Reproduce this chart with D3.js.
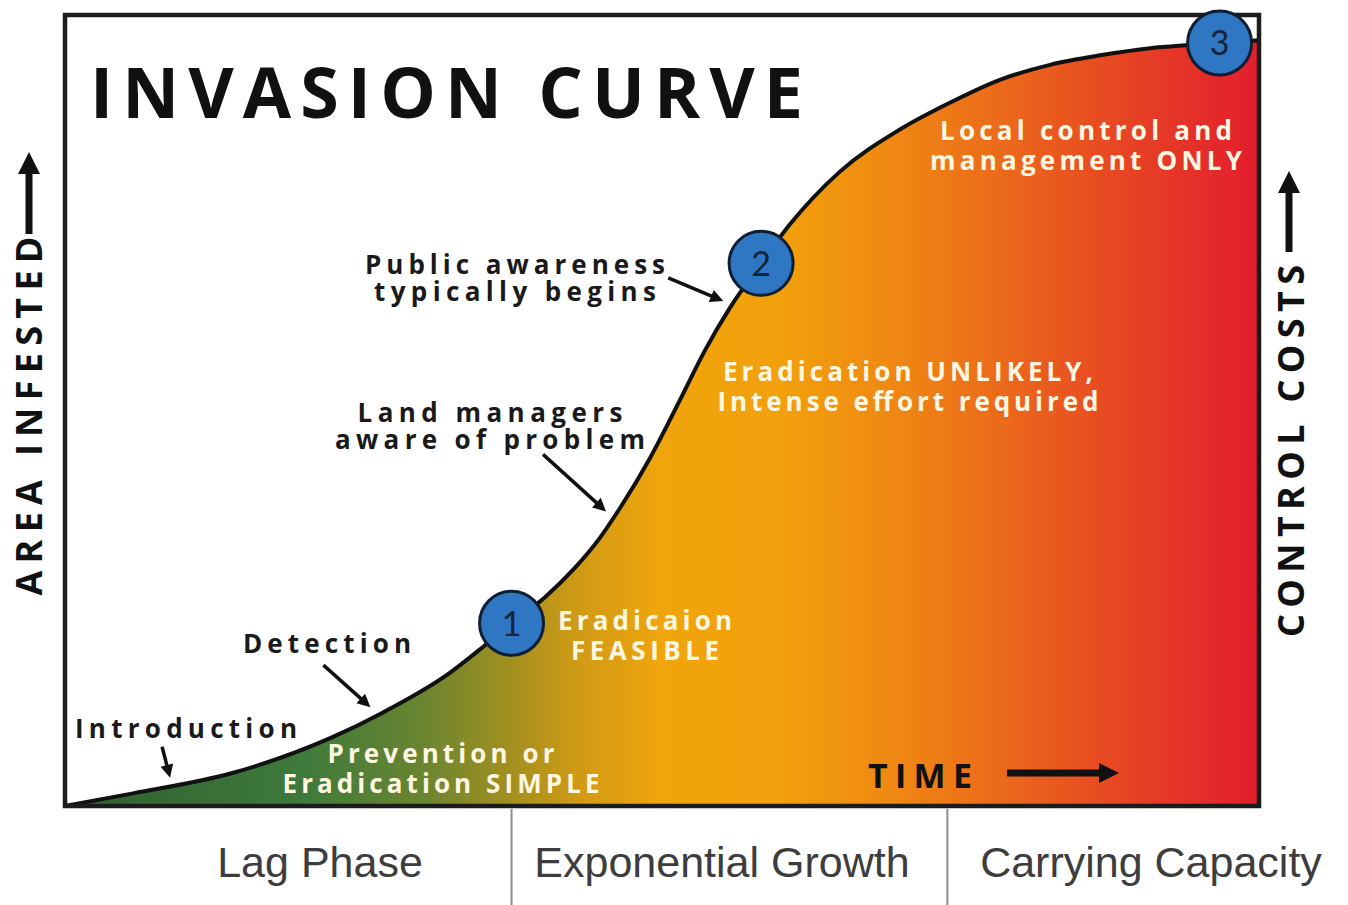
<!DOCTYPE html>
<html>
<head>
<meta charset="utf-8">
<script src="https://cdn.jsdelivr.net/npm/d3@7"></script>
<style>
body { margin: 0; background: #fff; }
svg { display: block; }
</style>
</head>
<body>
<svg id="chart" width="1348" height="905"></svg>
<script>
//------------------- données -------------------

// courbe d'invasion : temps (0-100) et surface infestée (0-100)
const curveTime = [0, 5.7, 14.1, 22.4, 26.6, 32.2, 35.0, 37.4, 40.2, 42.7, 44.8, 46.5, 49.0, 51.5, 53.6, 55.7, 58.2, 60.7, 64.9, 69.9, 74.1, 78.3, 82.5, 86.7, 90.9, 94.2, 100];
const curveArea = [0, 1.6, 4.2, 8.7, 11.8, 16.8, 20.1, 23.1, 26.4, 30.1, 33.9, 37.7, 44.0, 51.3, 57.6, 63.0, 68.4, 73.5, 80.2, 85.5, 88.9, 91.8, 93.7, 94.9, 95.8, 96.2, 96.8];

// étapes numérotées
const milestoneLabels = ["1", "2", "3"];
const milestoneTime = [37.4, 58.3, 96.7];

// phases sous le graphique
const phaseNames = ["Lag Phase", "Exponential Growth", "Carrying Capacity"];
const phaseBreaks = [37.4, 73.9];

// annotations noires et zones blanches
const noteLines = [["Introduction"], ["Detection"], ["Land managers", "aware of problem"], ["Public awareness", "typically begins"]];
const noteTime = [8.8, 26, 45.9, 55.8];
const zoneLines = [["Prevention or", "Eradication SIMPLE"], ["Eradicaion", "FEASIBLE"], ["Eradication UNLIKELY,", "Intense effort required"], ["Local control and", "management ONLY"]];

const title = "INVASION CURVE";
const yLabel = "AREA INFESTED";
const y2Label = "CONTROL COSTS";
const xLabel = "TIME";

//------------------- échelles -------------------

const svg = d3.select("#chart");
const x = d3.scaleLinear().domain([0, 100]).range([65, 1259]);
const y = d3.scaleLinear().domain([0, 100]).range([806, 15]);
const areaAt = d3.scaleLinear().domain(curveTime).range(curveArea);
const points = curveTime.map((t, i) => [t, curveArea[i]]);

// dégradé vert -> orange -> rouge
const stops = [
    [0, "#2f5f30"], [20, "#3e7a3b"], [30, "#6a8530"], [37, "#a08f20"], [43, "#d09a15"],
    [50, "#f0a50c"], [60, "#f2a00b"], [70, "#ef8613"], [80, "#eb641c"], [90, "#e64025"], [100, "#e21d2d"]
];
const defs = svg.append("defs");
const grad = defs.append("linearGradient")
    .attr("id", "invasionGrad")
    .attr("gradientUnits", "userSpaceOnUse")
    .attr("x1", x(0)).attr("x2", x(100)).attr("y1", 0).attr("y2", 0);
grad.selectAll("stop").data(stops).join("stop")
    .attr("offset", d => d[0] + "%")
    .attr("stop-color", d => d[1]);

//------------------- surface et courbe -------------------

const area = d3.area()
    .x(d => x(d[0]))
    .y0(y(0))
    .y1(d => y(d[1]))
    .curve(d3.curveMonotoneX);

const line = d3.line()
    .x(d => x(d[0]))
    .y(d => y(d[1]))
    .curve(d3.curveMonotoneX);

svg.append("path").attr("d", area(points)).attr("fill", "url(#invasionGrad)");
svg.append("path").attr("d", line(points))
    .attr("fill", "none").attr("stroke", "#111").attr("stroke-width", 4);

// cadre
svg.append("rect")
    .attr("x", x(0)).attr("y", y(100))
    .attr("width", x(100) - x(0)).attr("height", y(0) - y(100))
    .attr("fill", "none").attr("stroke", "#1c1c1c").attr("stroke-width", 4.5);

//------------------- flèches -------------------

function arrow(x1, y1, x2, y2, w, hl, hw) {
    const dx = x2 - x1, dy = y2 - y1, L = Math.hypot(dx, dy);
    const ux = dx / L, uy = dy / L, px = -uy, py = ux;
    const bx = x2 - ux * hl, by = y2 - uy * hl;
    svg.append("line")
        .attr("x1", x1).attr("y1", y1).attr("x2", bx + ux).attr("y2", by + uy)
        .attr("stroke", "#111").attr("stroke-width", w);
    svg.append("path")
        .attr("d", `M${x2},${y2}L${bx + px * hw / 2},${by + py * hw / 2}L${bx - px * hw / 2},${by - py * hw / 2}Z`)
        .attr("fill", "#111");
}

//------------------- annotations noires -------------------

// décalages de la pointe par rapport à la courbe, et de la queue par rapport à la pointe
const noteLayout = [
    {cx: 186, base: 738, len: [222], tip: [0, -8], tail: [-8, -31]},
    {cx: 327, base: 653, len: [168], tip: [-5, -9], tail: [-47, -42]},
    {cx: 490, base: 422, len: [265, 310], tip: [-7, -7], tail: [-63, -57]},
    {cx: 515, base: 274, len: [300, 282], tip: [-8, -5], tail: [-55, -23]}
];

noteLines.forEach((lines, i) => {
    const lay = noteLayout[i];
    const t = noteTime[i];
    const tx = x(t) + lay.tip[0], ty = y(areaAt(t)) + lay.tip[1];
    arrow(tx + lay.tail[0], ty + lay.tail[1], tx, ty, 3.5, 13, 13);
    lines.forEach((s, j) => {
        svg.append("text")
            .attr("x", lay.cx).attr("y", lay.base + j * 27)
            .attr("text-anchor", "middle")
            .attr("textLength", lay.len[j]).attr("lengthAdjust", "spacing")
            .style("font-family", "'Open Sans', 'DejaVu Sans', sans-serif")
            .style("font-weight", 700).style("font-size", "26px")
            .attr("fill", "#1a1a1a")
            .text(s);
    });
});

//------------------- textes blancs -------------------

const zoneLayout = [
    {cx: 441, base: 763, len: [227, 317]},
    {cx: 645, base: 630, len: [174, 148]},
    {cx: 908, base: 381, len: [370, 381]},
    {cx: 1086, base: 140, len: [292, 312]}
];

zoneLines.forEach((lines, i) => {
    const lay = zoneLayout[i];
    lines.forEach((s, j) => {
        svg.append("text")
            .attr("x", lay.cx).attr("y", lay.base + j * 30)
            .attr("text-anchor", "middle")
            .attr("textLength", lay.len[j]).attr("lengthAdjust", "spacing")
            .style("font-family", "'Open Sans', 'DejaVu Sans', sans-serif")
            .style("font-weight", 700).style("font-size", "26px")
            .attr("fill", "#fff7e2")
            .text(s);
    });
});

//------------------- cercles numérotés -------------------

const ms = svg.selectAll("g.milestone")
    .data(milestoneLabels)
    .join("g")
    .attr("class", "milestone")
    .attr("transform", (d, i) => `translate(${x(milestoneTime[i])},${y(areaAt(milestoneTime[i]))})`);

ms.append("circle")
    .attr("r", 32)
    .attr("fill", "#2f77c2")
    .attr("stroke", "#0f1e33")
    .attr("stroke-width", 3);

ms.append("text")
    .attr("text-anchor", "middle")
    .attr("dy", "0.36em")
    .style("font-family", "Lato, 'Open Sans', sans-serif")
    .style("font-size", "34px")
    .attr("fill", "#15243d")
    .text(d => d);

//------------------- titre et axes -------------------

svg.append("text")
    .attr("x", 90).attr("y", 118)
    .attr("textLength", 713).attr("lengthAdjust", "spacing")
    .style("font-family", "'Open Sans', 'DejaVu Sans', sans-serif")
    .style("font-weight", 700).style("font-size", "70px")
    .attr("fill", "#111")
    .text(title);

svg.append("text")
    .attr("transform", "translate(29,416) rotate(-90)")
    .attr("text-anchor", "middle").attr("dy", "0.36em")
    .attr("textLength", 359).attr("lengthAdjust", "spacing")
    .style("font-family", "'Open Sans', 'DejaVu Sans', sans-serif")
    .style("font-weight", 700).style("font-size", "36px")
    .attr("fill", "#111")
    .text(yLabel);
arrow(29, 234, 29, 152, 7, 22, 22);

svg.append("text")
    .attr("transform", "translate(1291,451) rotate(-90)")
    .attr("text-anchor", "middle").attr("dy", "0.36em")
    .attr("textLength", 372).attr("lengthAdjust", "spacing")
    .style("font-family", "'Open Sans', 'DejaVu Sans', sans-serif")
    .style("font-weight", 700).style("font-size", "36px")
    .attr("fill", "#111")
    .text(y2Label);
arrow(1289, 252, 1289, 171, 7, 22, 22);

svg.append("text")
    .attr("x", 868).attr("y", 788)
    .attr("textLength", 104).attr("lengthAdjust", "spacing")
    .style("font-family", "'Open Sans', 'DejaVu Sans', sans-serif")
    .style("font-weight", 700).style("font-size", "34px")
    .attr("fill", "#111")
    .text(xLabel);
arrow(1007, 773, 1119, 773, 7, 20, 20);

//------------------- phases -------------------

svg.selectAll("line.divider")
    .data(phaseBreaks)
    .join("line")
    .attr("class", "divider")
    .attr("x1", d => x(d)).attr("x2", d => x(d))
    .attr("y1", y(0) + 3).attr("y2", 905)
    .attr("stroke", "#8c8c8c").attr("stroke-width", 2);

const phaseCenters = [320, 722, 1151];
svg.selectAll("text.phase")
    .data(phaseNames)
    .join("text")
    .attr("class", "phase")
    .attr("x", (d, i) => phaseCenters[i])
    .attr("y", 877)
    .attr("text-anchor", "middle")
    .style("font-family", "'Liberation Sans', Arial, sans-serif")
    .style("font-size", "43px")
    .attr("fill", "#3d3d3d")
    .text(d => d);
</script>
</body>
</html>
